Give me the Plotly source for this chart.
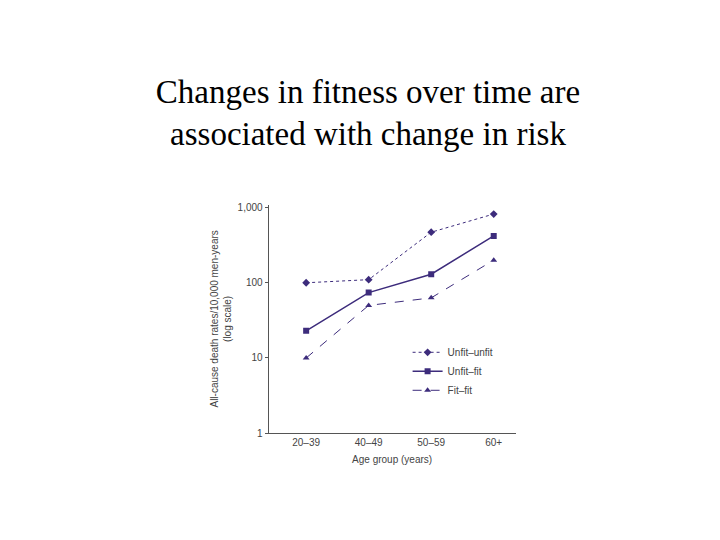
import plotly.graph_objects as go

ages = ["20–39", "40–49", "50–59", "60+"]
unfit_unfit = [100, 110, 470, 820]
unfit_fit = [23, 74, 130, 420]
fit_fit = [10, 50, 63, 200]

col = "#3d2c7c"
fig = go.Figure()
for name, vals, dash, sym, w in [
    ("Unfit–unfit", unfit_unfit, "dot", "diamond", 1),
    ("Unfit–fit", unfit_fit, "solid", "square", 1.5),
    ("Fit–fit", fit_fit, "dash", "triangle-up", 1),
]:
    fig.add_trace(go.Scatter(
        x=ages, y=vals, mode="lines+markers", name=name,
        line=dict(color=col, width=w, dash=dash),
        marker=dict(color=col, symbol=sym, size=6),
    ))

fig.update_layout(
    width=720, height=540,
    paper_bgcolor="white", plot_bgcolor="white",
    margin=dict(l=0, r=0, t=0, b=0),
    title=dict(text="Changes in fitness over time are<br>associated with change in risk",
               x=0.5, y=0.825, xanchor="center", yanchor="middle",
               font=dict(family="Liberation Serif", size=33, color="black")),
    font=dict(family="Liberation Sans", size=10, color="#444"),
    xaxis=dict(domain=[0.362, 0.705], showline=True, linecolor="#555", ticks="",
               showgrid=False, range=[-0.6, 3.35],
               title=dict(text="Age group (years)", font=dict(size=10), standoff=8)),
    yaxis=dict(domain=[0.206, 0.635], type="log", range=[0, 3.04], showline=True,
               linecolor="#555", ticks="outside", ticklen=3, tickcolor="#555",
               showgrid=False, tickvals=[1, 10, 100, 1000],
               ticktext=["1", "10", "100", "1,000"],
               title=dict(text="All-cause death rates/10,000 men-years<br>(log scale)",
                          font=dict(size=10), standoff=4)),
    legend=dict(x=0.555, y=0.385, xanchor="left", yanchor="top", bgcolor="rgba(0,0,0,0)",
                font=dict(size=10), tracegroupgap=8),
)
fig.write_html("out.html")
